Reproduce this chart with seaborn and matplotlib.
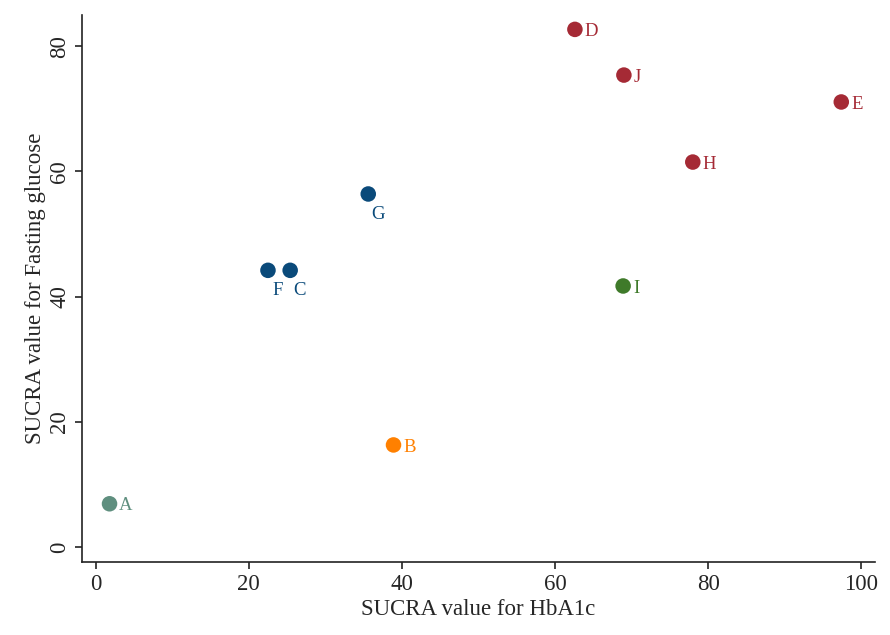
import pandas as pd
import matplotlib.pyplot as plt
import seaborn as sns

# SUCRA values
labels = ["A", "B", "C", "D", "E", "F", "G", "H", "I", "J"]
hba1c = [1.8, 38.9, 25.4, 62.6, 97.4, 22.5, 35.6, 78.0, 68.9, 69.0]
fasting = [6.9, 16.3, 44.2, 82.7, 71.1, 44.2, 56.4, 61.5, 41.7, 75.4]
groups = ["a", "b", "c", "d", "d", "c", "c", "d", "e", "d"]

palette = {"a": "#5f8f7f", "b": "#ff8000", "c": "#0a4a7a", "d": "#a52a35", "e": "#3f7a2a"}
# labels sitting under the point instead of to the right
below = {"C", "F", "G"}

df = pd.DataFrame({"label": labels, "HbA1c": hba1c, "Fasting": fasting, "group": groups})

sns.set_style("ticks")
plt.rcParams["font.family"] = ["Liberation Serif", "DejaVu Serif"]

fig = plt.figure(figsize=(8.9, 6.35), dpi=100)
ax = fig.add_axes([0.0921, 0.115, 0.891, 0.8614])

sns.scatterplot(data=df, x="HbA1c", y="Fasting", hue="group", palette=palette,
                s=125, edgecolor="none", legend=False, ax=ax)

for _, r in df.iterrows():
    c = palette[r["group"]]
    if r["label"] in below:
        ax.annotate(r["label"], (r["HbA1c"], r["Fasting"]), xytext=(7, -14.5),
                    textcoords="offset points", color=c, fontsize=13.5,
                    ha="center", va="center")
    else:
        ax.annotate(r["label"], (r["HbA1c"], r["Fasting"]), xytext=(7, -1.5),
                    textcoords="offset points", color=c, fontsize=13.5,
                    ha="left", va="center")

ax.set_xlim(-1.8, 101.8)
ax.set_ylim(-2.4, 85)
ax.set_xticks([0, 20, 40, 60, 80, 100])
ax.set_yticks([0, 20, 40, 60, 80])
ax.tick_params(axis="both", labelsize=16.5, length=5, width=1.2, color="#222222")
plt.setp(ax.get_yticklabels(), rotation=90, va="center")
ax.set_xlabel("SUCRA value for HbA1c", fontsize=16.5, labelpad=3)
ax.set_ylabel("SUCRA value for Fasting glucose", fontsize=16.5, labelpad=2)
sns.despine(ax=ax)
for side in ["left", "bottom"]:
    ax.spines[side].set_linewidth(1.2)
    ax.spines[side].set_color("#222222")

fig.savefig("out.png", dpi=100)
